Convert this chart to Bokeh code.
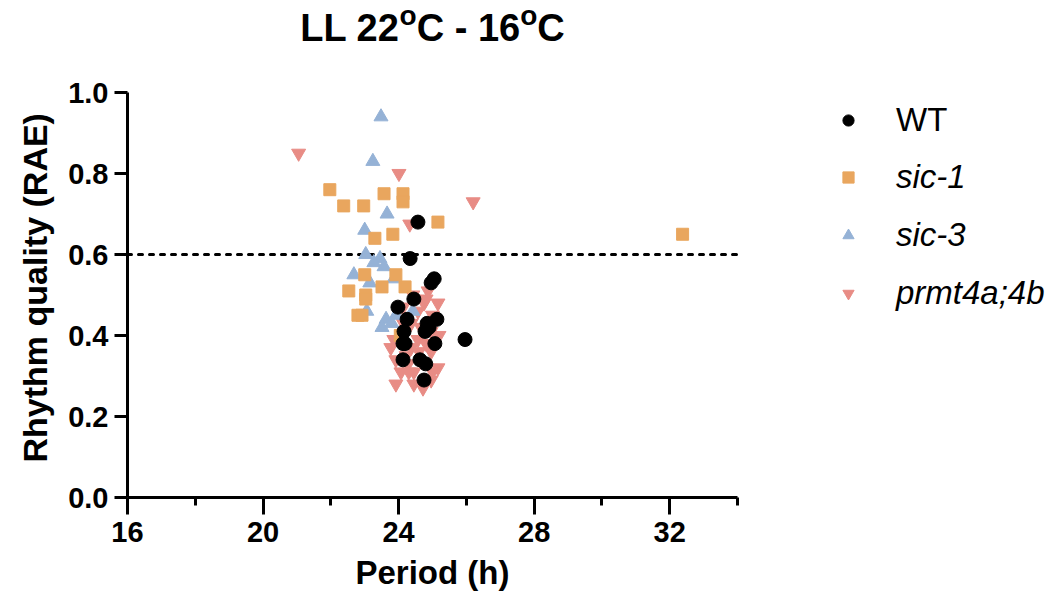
from bokeh.plotting import figure
from bokeh.models import FixedTicker, Legend, LegendItem, Label, Range1d, CustomJSTickFormatter, Title
from bokeh.embed import file_html
from bokeh.resources import INLINE

# ---------------- data ----------------
wt_period = [24.57, 24.34, 24.96, 25.05, 24.45, 23.98, 24.25, 25.13, 24.84, 24.90,
             24.78, 24.16, 24.13, 24.19, 25.07, 24.13, 24.63, 24.80, 24.75, 25.96]
wt_rae = [0.68, 0.59, 0.53, 0.54, 0.49, 0.47, 0.44, 0.44, 0.43, 0.42,
          0.41, 0.41, 0.38, 0.38, 0.38, 0.34, 0.34, 0.33, 0.29, 0.39]

sic1_period = [21.97, 22.38, 22.97, 23.57, 24.13, 24.13, 25.16, 23.30, 23.83, 32.38,
               23.00, 23.92, 23.51, 24.19, 22.53, 23.03, 23.03, 22.80, 22.92, 24.05]
sic1_rae = [0.76, 0.72, 0.72, 0.75, 0.75, 0.73, 0.68, 0.64, 0.65, 0.65,
            0.55, 0.55, 0.52, 0.52, 0.51, 0.50, 0.49, 0.45, 0.45, 0.40]

sic3_period = [23.48, 23.24, 23.66, 23.00, 23.03, 23.45, 23.27, 23.57, 22.68, 23.86,
               23.15, 23.06, 23.63, 23.51, 23.92, 23.80, 24.42]
sic3_rae = [0.94, 0.83, 0.70, 0.66, 0.60, 0.59, 0.58, 0.57, 0.55, 0.54,
            0.53, 0.46, 0.44, 0.42, 0.45, 0.43, 0.46]

prmt_period = [21.05, 24.01, 24.33, 26.20, 24.87, 25.16, 24.75, 24.13, 24.57, 25.00,
               24.37, 24.66, 23.86, 23.77, 24.37, 24.57, 24.96, 23.92, 24.28, 25.16,
               24.07, 24.45, 25.00, 23.92, 24.45, 24.96, 24.72, 24.30, 24.16, 24.42,
               24.81, 24.96, 24.60, 24.81, 24.22, 25.19, 24.07]
prmt_rae = [0.85, 0.80, 0.675, 0.73, 0.51, 0.48, 0.48, 0.47, 0.46, 0.45,
            0.43, 0.42, 0.39, 0.37, 0.37, 0.39, 0.36, 0.34, 0.33, 0.32,
            0.31, 0.31, 0.31, 0.28, 0.28, 0.29, 0.27, 0.31, 0.41, 0.50,
            0.49, 0.41, 0.36, 0.38, 0.35, 0.40, 0.44]

threshold = 0.6
x_min, x_max = 16, 34
y_min, y_max = 0.0, 1.0
x_ticks = [16, 20, 24, 28, 32]
x_minor = [18, 22, 26, 30, 34]
y_ticks = [0.0, 0.2, 0.4, 0.6, 0.8, 1.0]

C_WT = "#000000"
C_SIC1 = "#E9A65E"
C_SIC3 = "#95B2D6"
C_PRMT = "#E88C85"
FONT = "Liberation Sans"

# ---------------- layout (pixels) ----------------
W, H = 1048, 607
AX_LEFT, AX_RIGHT = 127, 737     # x-axis drawn from 16 to 34
AX_TOP, AX_BOTTOM = 92, 497      # y-axis drawn from 0 to 1
px_x = (AX_RIGHT - AX_LEFT) / (x_max - x_min)
px_y = (AX_BOTTOM - AX_TOP) / (y_max - y_min)
x_end = x_max + (W - AX_RIGHT) / px_x
y_end = y_max + AX_TOP / px_y

p = figure(width=W, height=H, output_backend="svg", toolbar_location=None,
           title=None,
           x_range=Range1d(x_min, x_end), y_range=Range1d(y_min, y_end),
           min_border_left=AX_LEFT, min_border_right=0, min_border_top=0,
           min_border_bottom=H - AX_BOTTOM)
p.outline_line_color = None
p.xgrid.visible = False
p.ygrid.visible = False
p.background_fill_color = "white"
p.border_fill_color = "white"

# threshold line
p.line([x_min, x_max], [threshold, threshold], line_color="black",
       line_width=3, line_dash="4 7", line_cap="round")

r_prmt = p.scatter(prmt_period, prmt_rae, marker="inverted_triangle", size=14,
                   fill_color=C_PRMT, line_color=C_PRMT)
r_sic3 = p.scatter(sic3_period, sic3_rae, marker="triangle", size=14,
                   fill_color=C_SIC3, line_color=C_SIC3)
r_sic1 = p.scatter(sic1_period, sic1_rae, marker="square", size=12,
                   fill_color=C_SIC1, line_color=C_SIC1)
r_wt = p.scatter(wt_period, wt_rae, marker="circle", size=14,
                 fill_color=C_WT, line_color=C_WT)

# axes
for ax in (p.xaxis[0], p.yaxis[0]):
    ax.axis_line_width = 3
    ax.major_tick_line_width = 3
    ax.minor_tick_line_width = 3
    ax.major_tick_in = 0
    ax.minor_tick_in = 0
    ax.major_label_text_font = FONT
    ax.major_label_text_font_style = "bold"
    ax.major_label_text_font_size = "29px"
    ax.major_label_text_color = "black"

p.xaxis.bounds = (x_min, x_max)
p.xaxis.ticker = FixedTicker(ticks=x_ticks, minor_ticks=x_minor)
p.xaxis.major_tick_out = 17
p.xaxis.minor_tick_out = 8
p.xaxis.major_label_standoff = 7

p.yaxis.bounds = (y_min, y_max)
p.yaxis.ticker = FixedTicker(ticks=y_ticks, minor_ticks=[])
p.yaxis.formatter = CustomJSTickFormatter(code="return tick.toFixed(1);")
p.yaxis.major_tick_out = 13
p.yaxis.minor_tick_out = 0
p.yaxis.major_label_standoff = 6

# axis titles (placed as side titles so they centre on the drawn axis extent)
p.add_layout(Title(text="Period (h)", align="left", offset=228, standoff=15,
                   text_font=FONT, text_font_style="bold", text_font_size="33px",
                   text_color="black"), "below")
p.add_layout(Title(text="Rhythm quality (RAE)", align="left", offset=35, standoff=24,
                   text_font=FONT, text_font_style="bold", text_font_size="34px",
                   text_color="black"), "left")

# chart title composed of pieces (superscript o)
ts, ss = 38, 28
pieces = [("LL 22", ts, 0), ("o", ss, 12), ("C - 16", ts, 0), ("o", ss, 12), ("C", ts, 0)]
adv = {"LL 22": 2.612 * ts, "o": 0.611 * ss, "C - 16": 2.723 * ts, "C": 0.722 * ts}
total = sum(adv[t] for t, _, _ in pieces)
off = -total / 2
x_mid = (x_min + x_max) / 2
for t, sz, rise in pieces:
    p.add_layout(Label(x=x_mid, y=y_max + (65 + rise) / px_y, x_offset=off, text=t,
                       text_font=FONT, text_font_style="bold",
                       text_font_size=f"{sz}px", text_color="black",
                       text_baseline="alphabetic", text_align="left"))
    off += adv[t]

# legends
common = dict(border_line_color=None, background_fill_alpha=0, padding=0, margin=0,
              glyph_width=28, glyph_height=28, label_height=36, spacing=20,
              label_standoff=34, label_text_font=FONT, label_text_font_size="33px",
              label_text_color="black")
leg1 = Legend(items=[LegendItem(label="WT", renderers=[r_wt])],
              location=(707, 358), label_text_font_style="normal", **common)
leg2 = Legend(items=[LegendItem(label="sic-1", renderers=[r_sic1]),
                     LegendItem(label="sic-3", renderers=[r_sic3]),
                     LegendItem(label="prmt4a;4b", renderers=[r_prmt])],
              location=(707, 185), label_text_font_style="italic", **common)
p.add_layout(leg1, "center")
p.add_layout(leg2, "center")

open("out.html", "w").write(file_html(p, INLINE))
